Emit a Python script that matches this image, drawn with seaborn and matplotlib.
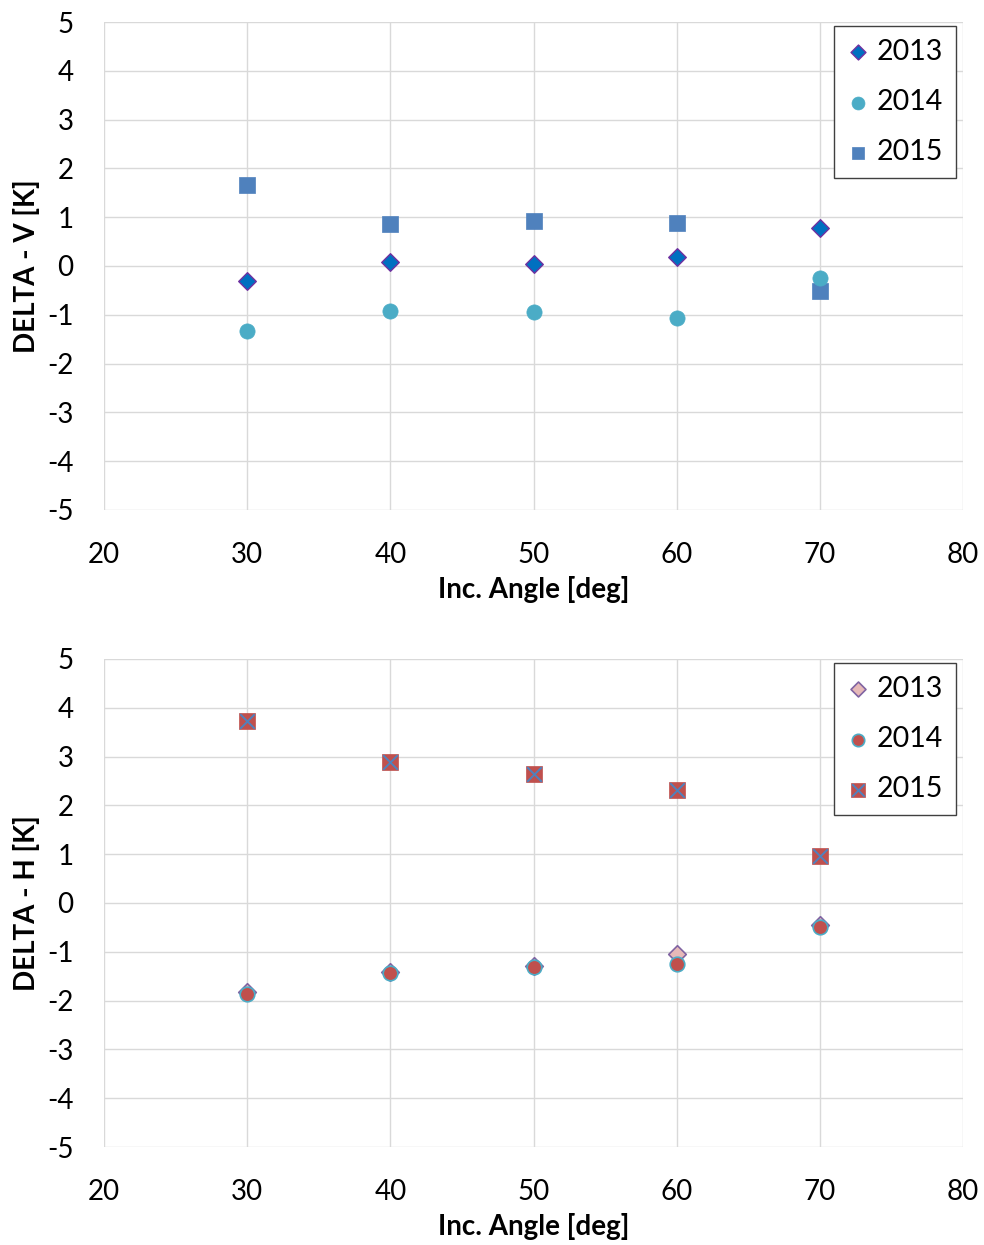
import matplotlib
matplotlib.use("Agg")
import matplotlib.pyplot as plt
import seaborn as sns
import pandas as pd
from matplotlib.legend_handler import HandlerTuple

angles = [30, 40, 50, 60, 70]
years = ["2013", "2014", "2015"]

v_2013 = [-0.31, 0.08, 0.04, 0.18, 0.78]
v_2014 = [-1.33, -0.92, -0.94, -1.07, -0.25]
v_2015 = [1.66, 0.86, 0.92, 0.88, -0.51]

h_2013 = [-1.82, -1.41, -1.29, -1.05, -0.45]
h_2014 = [-1.86, -1.43, -1.31, -1.25, -0.49]
h_2015 = [3.73, 2.89, 2.64, 2.32, 0.96]

x_ticks = [20, 30, 40, 50, 60, 70, 80]
y_ticks = [-5, -4, -3, -2, -1, 0, 1, 2, 3, 4, 5]

sns.set_theme(style="white")
plt.rcParams['font.family'] = ['Lato', 'DejaVu Sans']
plt.rcParams['text.color'] = 'black'

fig = plt.figure(figsize=(9.84, 12.45), dpi=100)
ax1 = fig.add_axes([0.1057, 0.5904, 0.8730, 0.3919])
ax2 = fig.add_axes([0.1057, 0.0787, 0.8730, 0.3920])

FS = 20
LFS = 20.5

def style_axes(ax, ylabel):
    ax.set_xlim(20, 80)
    ax.set_ylim(-5, 5)
    ax.set_xticks(x_ticks)
    ax.set_yticks(y_ticks)
    ax.set_xticklabels([str(t) for t in x_ticks], fontsize=FS, color="black")
    ax.set_yticklabels([str(t) for t in y_ticks], fontsize=FS, color="black")
    ax.grid(True, color="#D9D9D9", linewidth=1.0)
    ax.set_axisbelow(True)
    for s in ax.spines.values():
        s.set_visible(False)
    ax.tick_params(axis="x", length=0, pad=23)
    ax.tick_params(axis="y", length=0, pad=22)
    ax.set_xlabel("Inc. Angle [deg]", fontsize=FS, fontweight="bold", labelpad=6, color="black")
    ax.set_ylabel(ylabel, fontsize=FS, fontweight="bold", labelpad=5, color="black")

def add_legend(ax, handles, handler_map=None):
    leg = ax.legend(handles, years, loc="upper right",
                    bbox_to_anchor=(1 - 7 / 859, 1 - 4 / 488),
                    borderaxespad=0, fontsize=LFS,
                    frameon=True, fancybox=False, edgecolor="#404040", framealpha=1,
                    handletextpad=0.25, borderpad=0.45, labelspacing=0.85,
                    handlelength=0.8, scatterpoints=1,
                    markerscale=0.85, handler_map=handler_map)
    leg.get_frame().set_linewidth(1.0)
    return leg

# ---- Top: DELTA - V
df_v = pd.DataFrame({"angle": angles * 3,
                     "delta": v_2013 + v_2014 + v_2015,
                     "year": [y for y in years for _ in angles]})

sns.scatterplot(data=df_v[df_v.year == "2015"], x="angle", y="delta", ax=ax1,
                marker="s", s=120, color="#4F81BD", edgecolor="#4F81BD", linewidth=0.5,
                legend=False, zorder=3)
sns.scatterplot(data=df_v[df_v.year == "2014"], x="angle", y="delta", ax=ax1,
                marker="o", s=120, color="#4BACC6", edgecolor="#4BACC6", linewidth=0.5,
                legend=False, zorder=4)
sns.scatterplot(data=df_v[df_v.year == "2013"], x="angle", y="delta", ax=ax1,
                marker="D", s=80, color="#0070C0", edgecolor="#7030A0", linewidth=1.0,
                legend=False, zorder=5)
h15, h14, h13 = ax1.collections[0], ax1.collections[1], ax1.collections[2]
style_axes(ax1, "DELTA - V [K]")
add_legend(ax1, [h13, h14, h15])

# ---- Bottom: DELTA - H
df_h = pd.DataFrame({"angle": angles * 3,
                     "delta": h_2013 + h_2014 + h_2015,
                     "year": [y for y in years for _ in angles]})

sns.scatterplot(data=df_h[df_h.year == "2015"], x="angle", y="delta", ax=ax2,
                marker="s", s=130, color="#C0504D", edgecolor="#C0504D", linewidth=0.5,
                legend=False, zorder=3)
sns.scatterplot(data=df_h[df_h.year == "2015"], x="angle", y="delta", ax=ax2,
                marker="x", s=110, color="#4F81BD", linewidth=1.4,
                legend=False, zorder=4)
sns.scatterplot(data=df_h[df_h.year == "2013"], x="angle", y="delta", ax=ax2,
                marker="D", s=80, color="#E6B9B8", edgecolor="#8064A2", linewidth=1.2,
                legend=False, zorder=5)
sns.scatterplot(data=df_h[df_h.year == "2014"], x="angle", y="delta", ax=ax2,
                marker="o", s=110, color="#C0504D", edgecolor="#4BACC6", linewidth=1.2,
                legend=False, zorder=6)
c2 = ax2.collections
b15s, b15x, b13, b14 = c2[0], c2[1], c2[2], c2[3]
style_axes(ax2, "DELTA - H [K]")
add_legend(ax2, [b13, b14, (b15s, b15x)],
           handler_map={tuple: HandlerTuple(ndivide=1, pad=0)})

fig.savefig("out.png", dpi=100)
